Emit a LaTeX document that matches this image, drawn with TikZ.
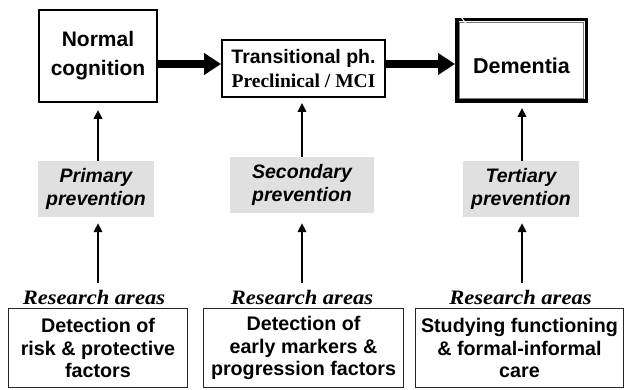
\documentclass[tikz,border=0pt]{standalone}
\usepackage{fontspec}
\newfontfamily\hv{Liberation Sans}
\newfontfamily\tm{Liberation Serif}
\newfontfamily\tmw[FakeStretch=1.1]{Liberation Serif}
\usetikzlibrary{arrows.meta,calc}
\definecolor{prevgray}{RGB}{224,224,224}
\definecolor{framegray}{RGB}{120,120,120}
\begin{document}
\begin{tikzpicture}[x=1pt,y=-1pt,
  topbox/.style={draw=black, line width=1.6pt, inner sep=0pt, align=center},
  prevbox/.style={fill=prevgray, inner sep=0pt, align=center,
    font=\hv\bfseries\itshape\fontsize{19.5}{22.5}\selectfont},
  resbox/.style={draw=black!85, line width=1.3pt, inner sep=0pt, align=center,
    font=\hv\bfseries\fontsize{19.7}{22.6}\selectfont},
  reslabel/.style={inner sep=0pt, font=\tmw\bfseries\itshape\fontsize{20.5}{24}\selectfont},
  bigarrow/.style={line width=7.5pt, -{Triangle[length=17pt,width=21pt]}},
  thinarrow/.style={line width=2.6pt, -{Triangle[length=9pt,width=8.5pt]}},
]
\useasboundingbox (0,0) rectangle (626,390);

% top row
\node[topbox, minimum width=118.4, minimum height=92.4,
  font=\hv\bfseries\fontsize{21}{29}\selectfont] (nc) at (98,56) {Normal\\cognition};
\node[topbox, minimum width=163.4, minimum height=57.4,
  font=\fontsize{19.5}{24}\selectfont] (tp) at (303.5,68.5)
  {{\hv\bfseries Transitional ph.}\\{\tm\bfseries Preclinical / MCI}};
\node[draw=black, line width=3.5pt, minimum width=129.5, minimum height=81.5,
  inner sep=0pt, text height=27pt, text depth=0pt,
  font=\hv\bfseries\fontsize{21.5}{26}\selectfont] (dm) at (521.5,60.5) {Dementia};
\draw[framegray, line width=1.2pt] ($(dm.north west)+(4.3,4.3)$) rectangle ($(dm.south east)+(-4.3,-4.3)$);
\draw[white, line width=1pt] (461.5,17.5) -- (466,23.5);

% prevention
\node[prevbox, minimum width=116, minimum height=56] (pp) at (96,189) {Primary\\prevention};
\node[prevbox, minimum width=144, minimum height=56] (sp) at (302,185) {Secondary\\prevention};
\node[prevbox, minimum width=116, minimum height=56] (tv) at (521,189) {Tertiary\\prevention};

% research labels
\node[reslabel] (r1) at (94,297) {Research areas};
\node[reslabel] (r2) at (302,297) {Research areas};
\node[reslabel] (r3) at (520.5,297) {Research areas};

% bottom boxes
\node[resbox, minimum width=178.7, minimum height=78.7] (b1) at (98,348)
  {Detection of\\risk \& protective\\factors};
\node[resbox, minimum width=199.7, minimum height=78.7] (b2) at (303.5,348)
  {Detection of\\early markers \&\\progression factors};
\node[resbox, minimum width=207.7, minimum height=78.7] (b3) at (519.5,348)
  {Studying functioning\\\& formal-informal\\care};

% thick arrows
\coordinate (row) at (0,64);
\draw[bigarrow] (nc.east |- row) -- (tp.west |- row);
\draw[bigarrow] (tp.east |- row) -- (dm.west |- row);

% upper thin arrows
\draw[thinarrow, shorten >=7pt] (nc.south |- pp.north) -- (nc.south);
\draw[thinarrow, shorten >=5pt] (302,0 |- sp.north) -- (302,0 |- tp.south);
\draw[thinarrow, shorten >=5pt] (522,0 |- tv.north) -- (522,0 |- dm.south);

% lower thin arrows
\coordinate (c1) at (98,283);
\coordinate (c2) at (302,283);
\coordinate (c3) at (522,283);
\draw[thinarrow, shorten >=6pt] (c1) -- (c1 |- pp.south);
\draw[thinarrow, shorten >=10pt] (c2) -- (c2 |- sp.south);
\draw[thinarrow, shorten >=6pt] (c3) -- (c3 |- tv.south);
\end{tikzpicture}
\end{document}
